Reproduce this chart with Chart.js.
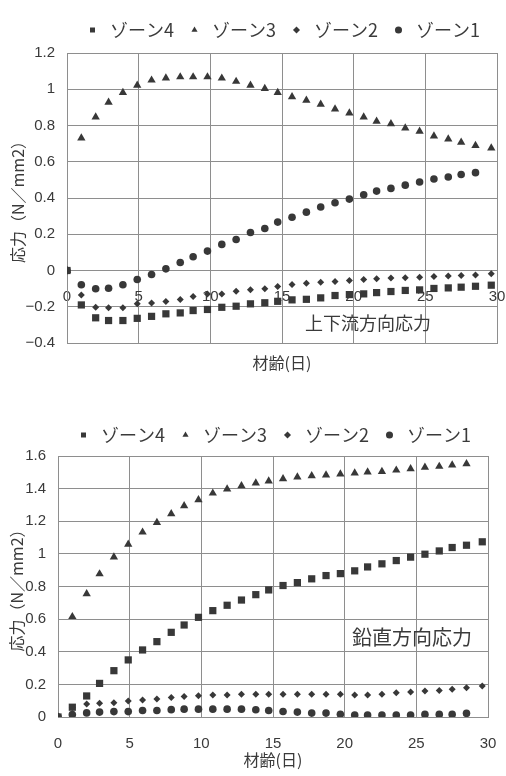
<!DOCTYPE html>
<html lang="ja">
<head>
<meta charset="utf-8">
<title>応力の経時変化</title>
<script src="https://cdn.jsdelivr.net/npm/chart.js@4.4.1/dist/chart.umd.min.js"></script>
<style>
  html, body { margin: 0; padding: 0; background: #fff; }
  body { width: 506px; height: 776px; position: relative; overflow: hidden; }
  .panel { position: absolute; left: 0; width: 506px; }
  #upstream { top: 0; height: 380px; }
  #vertical { top: 414px; height: 362px; }
  canvas { display: block; }
</style>
</head>
<body>
<div class="panel" id="upstream"><canvas id="chartUpstream" width="506" height="380"></canvas></div>
<div class="panel" id="vertical"><canvas id="chartVertical" width="506" height="362"></canvas></div>
<script>
// Concrete age (days) at each measurement
const ages = [0, 1.0, 2.0, 2.9, 3.9, 4.9, 5.9, 6.9, 7.9, 8.8, 9.8, 10.8, 11.8, 12.8, 13.8, 14.7,
              15.7, 16.7, 17.7, 18.7, 19.7, 20.7, 21.6, 22.6, 23.6, 24.6, 25.6, 26.6, 27.5, 28.5, 29.6];

const zoneNames = ['ゾーン4', 'ゾーン3', 'ゾーン2', 'ゾーン1'];

// Upstream–downstream stress (N/mm2)
const upZone4 = [0, -0.190, -0.261, -0.276, -0.276, -0.264, -0.253, -0.239, -0.234, -0.221, -0.215,
                 -0.203, -0.197, -0.184, -0.178, -0.170, -0.162, -0.159, -0.151, -0.138, -0.133,
                 -0.129, -0.122, -0.116, -0.110, -0.107, -0.099, -0.096, -0.092, -0.087, -0.081];
const upZone3 = [0, 0.731, 0.847, 0.928, 0.982, 1.022, 1.050, 1.062, 1.068, 1.068, 1.068,
                 1.061, 1.043, 1.022, 1.004, 0.982, 0.958, 0.939, 0.917, 0.891, 0.869,
                 0.847, 0.823, 0.809, 0.786, 0.768, 0.742, 0.725, 0.707, 0.689, 0.676];
const upZone2 = [0, -0.135, -0.203, -0.206, -0.206, -0.184, -0.179, -0.171, -0.160, -0.144, -0.129,
                 -0.129, -0.114, -0.106, -0.101, -0.088, -0.077, -0.070, -0.065, -0.061, -0.055,
                 -0.050, -0.046, -0.042, -0.040, -0.037, -0.033, -0.031, -0.028, -0.025, -0.018];
const upZone1 = [0, -0.079, -0.101, -0.098, -0.079, -0.050, -0.022, 0.009, 0.044, 0.076, 0.107,
                 0.144, 0.171, 0.210, 0.232, 0.267, 0.294, 0.322, 0.350, 0.374, 0.394,
                 0.418, 0.438, 0.453, 0.471, 0.488, 0.505, 0.516, 0.530, 0.540, null];

// Vertical stress (N/mm2)
const vtZone4 = [0, 0.060, 0.129, 0.206, 0.284, 0.350, 0.411, 0.462, 0.519, 0.564, 0.611,
                 0.652, 0.685, 0.717, 0.750, 0.779, 0.806, 0.824, 0.847, 0.867, 0.879,
                 0.896, 0.920, 0.939, 0.959, 0.980, 0.998, 1.018, 1.039, 1.053, 1.074];
const vtZone3 = [0, 0.615, 0.755, 0.877, 0.980, 1.059, 1.133, 1.192, 1.245, 1.294, 1.331,
                 1.372, 1.397, 1.417, 1.434, 1.446, 1.460, 1.471, 1.479, 1.483, 1.489,
                 1.495, 1.501, 1.505, 1.513, 1.521, 1.530, 1.536, 1.544, 1.552, null];
const vtZone2 = [0, 0.059, 0.080, 0.084, 0.088, 0.098, 0.104, 0.110, 0.119, 0.125, 0.131,
                 0.135, 0.135, 0.139, 0.139, 0.139, 0.139, 0.139, 0.139, 0.139, 0.139,
                 0.135, 0.135, 0.139, 0.149, 0.153, 0.160, 0.162, 0.170, 0.180, 0.190];
const vtZone1 = [0, 0.015, 0.025, 0.030, 0.033, 0.033, 0.040, 0.040, 0.045, 0.048, 0.048,
                 0.048, 0.048, 0.048, 0.044, 0.040, 0.034, 0.030, 0.024, 0.024, 0.017,
                 0.012, 0.012, 0.012, 0.012, 0.012, 0.016, 0.016, 0.016, 0.022, null];

const xTickValues = [0, 5, 10, 15, 20, 25, 30];

const CJK = "'Noto Sans CJK JP', 'Noto Sans', sans-serif";
const NUM = "'Liberation Sans', Arial, sans-serif";
const INK = '#383838';
const TEXT = '#3a3a3a';
const GRID = '#8e8e8e';

const markers = [
  { pointStyle: 'rect', radius: 5.1 },
  { pointStyle: 'triangle', radius: 4.8 },
  { pointStyle: 'rectRot', radius: 3.5 },
  { pointStyle: 'circle', radius: 3.8 }
];

function toPoints(values) {
  return ages.map((x, i) => ({ x, y: values[i] })).filter(p => p.y !== null);
}

function makeDatasets(series) {
  return series.map((values, i) => ({
    label: zoneNames[i],
    data: toPoints(values),
    pointStyle: markers[i].pointStyle,
    pointRadius: markers[i].radius,
    pointBorderWidth: 0,
    backgroundColor: INK,
    borderColor: INK,
    showLine: false
  }));
}

function formatStress(v) {
  const r = Math.round(v * 10) / 10;
  return r < 0 ? '\u2212' + Math.abs(r) : String(r);
}

// Caption written inside the plot, placed in data coordinates
const plotCaption = {
  id: 'plotCaption',
  afterDatasetsDraw(chart, args, opts) {
    const { ctx, scales } = chart;
    ctx.save();
    ctx.font = opts.size + 'px ' + CJK;
    ctx.fillStyle = TEXT;
    ctx.textAlign = 'center';
    ctx.textBaseline = 'middle';
    ctx.fillText(opts.text, scales.x.getPixelForValue(opts.x), scales.y.getPixelForValue(opts.y));
    ctx.restore();
  }
};

function baseOptions(cfg) {
  return {
    responsive: false,
    animation: false,
    events: [],
    layout: { padding: cfg.padding },
    plugins: {
      legend: {
        position: 'top',
        fullSize: false,
        labels: {
          usePointStyle: true,
          boxWidth: 17,
          boxHeight: 5,
          padding: 12,
          color: TEXT,
          font: { family: CJK, size: 18 }
        }
      },
      // thin gap between the legend and the plot
      title: { display: true, text: '', weight: 500, padding: 0, font: { size: cfg.gap, lineHeight: 1 } },
      tooltip: { enabled: false },
      plotCaption: cfg.caption
    }
  };
}

function yScale(cfg) {
  return {
    type: 'linear',
    min: cfg.min,
    max: cfg.max,
    ticks: { stepSize: 0.2, padding: cfg.tickPad, color: TEXT, font: { family: NUM, size: 15 }, callback: formatStress },
    grid: { color: GRID, lineWidth: 1, drawTicks: false },
    border: { color: GRID, width: 1 },
    title: { display: true, text: '応力（N／mm2）', color: TEXT, font: { family: CJK, size: 16 }, padding: { top: cfg.titlePad } },
    afterFit(scale) { scale.width = cfg.width; }
  };
}

function xTicksAt(values) {
  return function (scale) {
    scale.ticks = values.map(v => ({ value: v }));
  };
}

// Upstream–downstream chart: age labels sit on the zero line
new Chart(document.getElementById('chartUpstream'), {
  type: 'scatter',
  data: { datasets: makeDatasets([upZone4, upZone3, upZone2, upZone1]) },
  options: Object.assign(baseOptions({
    padding: { top: 9, right: 9, left: 0, bottom: 0 },
    gap: 4,
    caption: { text: '上下流方向応力', x: 21.0, y: -0.293, size: 18 }
  }), {
    scales: {
      x: {
        type: 'linear', min: 0, max: 30, position: 'bottom',
        afterBuildTicks: xTicksAt(xTickValues),
        ticks: { display: false },
        grid: { color: GRID, lineWidth: 1, drawTicks: false },
        border: { color: GRID, width: 1 },
        title: { display: true, text: '材齢(日)', color: TEXT, font: { family: CJK, size: 16 }, padding: { top: 0, bottom: 7.4 } },
        afterFit(scale) { scale.height = 37; }
      },
      xAge: {
        type: 'linear', axis: 'x', min: 0, max: 30, position: { y: 0 },
        afterBuildTicks: xTicksAt(xTickValues),
        ticks: { padding: 0, color: TEXT, font: { family: NUM, size: 15 } },
        grid: { display: false, drawTicks: true, tickLength: 17 },
        border: { display: false }
      },
      y: yScale({ min: -0.4, max: 1.2, tickPad: 12, titlePad: 8, width: 67 })
    }
  }),
  plugins: [plotCaption]
});

// Vertical stress chart
new Chart(document.getElementById('chartVertical'), {
  type: 'scatter',
  data: { datasets: makeDatasets([vtZone4, vtZone3, vtZone2, vtZone1]) },
  options: Object.assign(baseOptions({
    padding: { top: 0, right: 18, left: 0, bottom: 0 },
    gap: 2,
    caption: { text: '鉛直方向応力', x: 24.7, y: 0.485, size: 20 }
  }), {
    scales: {
      x: {
        type: 'linear', min: 0, max: 30, position: 'bottom',
        afterBuildTicks: xTicksAt(xTickValues),
        ticks: { padding: 0, color: TEXT, font: { family: NUM, size: 15 } },
        grid: { color: GRID, lineWidth: 1, drawTicks: true, tickLength: 17.5, tickColor: 'rgba(0,0,0,0)' },
        border: { color: GRID, width: 1 },
        title: { display: true, text: '材齢(日)', color: TEXT, font: { family: CJK, size: 16 }, padding: { top: 0, bottom: 6.4 } },
        afterFit(scale) { scale.height = 59; }
      },
      y: yScale({ min: 0, max: 1.6, tickPad: 12, titlePad: 7.5, width: 58 })
    }
  }),
  plugins: [plotCaption]
});
</script>
</body>
</html>
